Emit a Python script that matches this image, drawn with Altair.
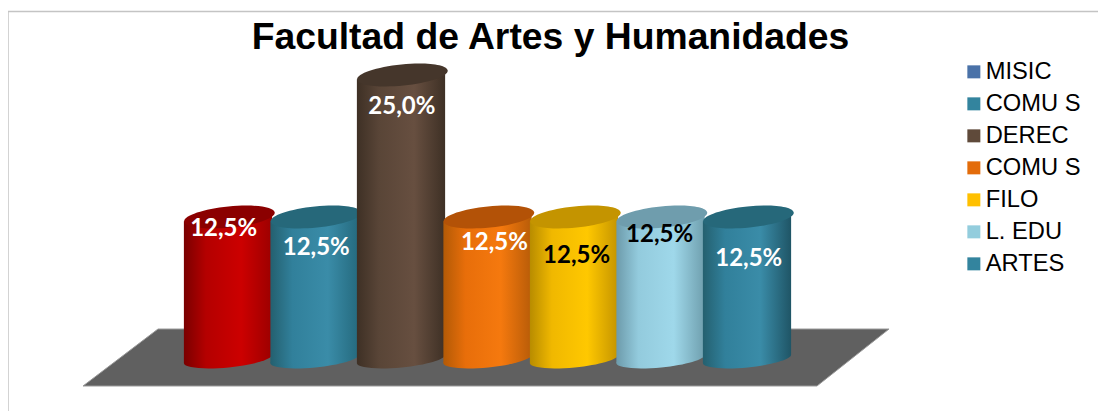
import altair as alt
import pandas as pd

title = "Facultad de Artes y Humanidades"
legend_keys = ["MISIC", "COMU S", "DEREC", "COMU S ", "FILO", "L. EDU", "ARTES"]
legend_colors = ["#4a72a8", "#33849e", "#5f4a3a", "#e36c0a", "#ffc000", "#93cddd", "#33849e"]
values = [12.5, 12.5, 25.0, 12.5, 12.5, 12.5, 12.5]
labels = ["12,5%", "12,5%", "25,0%", "12,5%", "12,5%", "12,5%", "12,5%"]
label_colors = ["white", "white", "white", "white", "black", "black", "white"]
label_x = [-0.05, 1.02, 2.01, 3.08, 4.03, 4.99, 6.02]
label_y = [11.44, 9.77, 22.18, 10.21, 9.07, 10.92, 8.80]
cap_colors = ["#8b0000", "#26687a", "#45362b", "#b35207", "#c49400", "#6f9dad", "#26687a"]
side_stops = [
    ["#7a0000", "#b40000", "#cc0000", "#9c0000"],
    ["#24606f", "#31809b", "#3a8ca8", "#256a7e"],
    ["#3e3025", "#594537", "#674f40", "#3e3025"],
    ["#b35a06", "#e86e0a", "#f5790e", "#b85c08"],
    ["#b88c00", "#f0b800", "#ffc800", "#c49400"],
    ["#6d9bab", "#93cbdd", "#9fd8ea", "#6f9fae"],
    ["#24606f", "#31809b", "#3a8ca8", "#1f5566"],
]
floor_x = [-1.676, -0.809, 6.809, 7.642]
floor_top = [-2.377, 2.641, 2.641, 2.641]
floor_bottom = [-2.377, -2.377, -2.377, 2.641]

X = alt.Scale(domain=[-2.5434, 10.0578], nice=False, zero=False)
Y = alt.Scale(domain=[-4.577, 30.898], nice=False, zero=False)
KAPPA = 0.5523


def ellipse(ratio):
    r, k = ratio, KAPPA
    return (f"M-1,0 C-1,{-k*r:.4f} {-k:.4f},{-r} 0,{-r} C{k:.4f},{-r} 1,{-k*r:.4f} 1,0 "
            f"C1,{k*r:.4f} {k:.4f},{r} 0,{r} C{-k:.4f},{r} -1,{k*r:.4f} -1,0 Z")


def grad(stops):
    offs = [0, 0.25, 0.65, 1]
    return alt.LinearGradient(gradient="linear", x1=0, x2=1, y1=0, y2=0,
                              stops=[alt.GradientStop(color=c, offset=o) for c, o in zip(stops, offs)])


def xq(f="x"):
    return alt.X(f"{f}:Q", scale=X, axis=None)


def yq(f="y"):
    return alt.Y(f"{f}:Q", scale=Y, axis=None)


layers = []

# chart frame
layers.append(alt.Chart(pd.DataFrame({"a": [0]})).mark_rule(color="#c4c4c4", strokeWidth=1.5).encode(
    x=alt.value(0), x2=alt.value(1090), y=alt.value(3.5)))
layers.append(alt.Chart(pd.DataFrame({"a": [0]})).mark_rule(color="#c4c4c4", strokeWidth=1.5).encode(
    x=alt.value(0), y=alt.value(3.5), y2=alt.value(403)))

# floor
layers.append(alt.Chart(pd.DataFrame({"x": floor_x, "y": floor_top, "y2": floor_bottom}))
              .mark_area(color="#606060", stroke="#9a9a9a", strokeWidth=1, opacity=1)
              .encode(x=xq(), y=yq(), y2="y2:Q"))

# legend carrier
layers.append(alt.Chart(pd.DataFrame({"k": legend_keys, "x": range(7), "y": [1] * 7}))
              .mark_square(size=1, opacity=1)
              .encode(x=xq(), y=yq(), color=alt.Color(
                  "k:N",
                  scale=alt.Scale(domain=legend_keys, range=legend_colors),
                  legend=alt.Legend(orient="none", legendX=954, legendY=52, title=None,
                                    symbolType="square", symbolSize=169, symbolStrokeWidth=0,
                                    labelFont="Liberation Sans", labelFontSize=23.7, labelColor="#000000",
                                    labelOffset=0, rowPadding=7, labelLimit=200))))

half, tilt = 0.51, 0.376
for i, v in enumerate(values):
    g = grad(side_stops[i])
    base = pd.DataFrame({"x": [i], "y": [0.0]})
    top = pd.DataFrame({"x": [i + 0.017], "y": [v]})
    body = pd.DataFrame({"x": [i - half, i + half],
                         "y": [v - tilt, v + tilt],
                         "y2": [-tilt, tilt]})
    layers.append(alt.Chart(base).mark_point(shape=ellipse(0.19), size=7850, angle=354.4, filled=True,
                                             fill=g, opacity=1, strokeWidth=0)
                  .encode(x=xq(), y=yq()))
    layers.append(alt.Chart(body).mark_area(fill=g, opacity=1)
                  .encode(x=xq(), y=yq(), y2="y2:Q"))
    layers.append(alt.Chart(top).mark_point(shape=ellipse(0.233), size=8281, angle=354.4, filled=True,
                                            fill=cap_colors[i], opacity=1, strokeWidth=0)
                  .encode(x=xq(), y=yq()))

for i, lab in enumerate(labels):
    layers.append(alt.Chart(pd.DataFrame({"x": [label_x[i]], "y": [label_y[i]], "t": [lab]}))
                  .mark_text(font="Lato", fontWeight="bold", fontSize=24, color=label_colors[i],
                             align="center", baseline="middle")
                  .encode(x=xq(), y=yq(), text="t:N"))

chart = alt.layer(*layers).properties(
    width=1090, height=403, padding=0,
    autosize=alt.AutoSizeParams(type="none"),
    background="white",
    title=alt.TitleParams(text=title, font="Liberation Sans", fontWeight="bold", fontSize=37.3,
                          color="#000000", anchor="middle", dx=-2.5, dy=53),
).configure_view(stroke=None)

chart.save("out.html", embed_options={"renderer": "svg", "actions": False})
